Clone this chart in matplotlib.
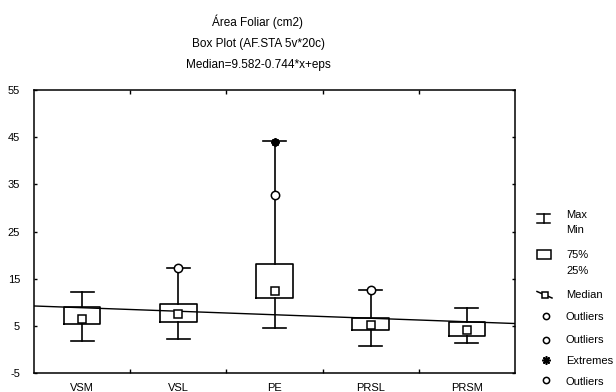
import numpy as np
import matplotlib
matplotlib.use('Agg')
import matplotlib.pyplot as plt
from matplotlib.patches import Rectangle

plt.rcParams['font.family'] = ['Liberation Sans', 'DejaVu Sans']
plt.rcParams['axes.unicode_minus'] = False

# Datos
categorias = ['VSM', 'VSL', 'PE', 'PRSL', 'PRSM']
medianas = [6.4, 7.6, 12.4, 5.2, 4.1]
q1 = [5.3, 5.9, 10.8, 4.1, 2.9]
q3 = [9.0, 9.7, 18.2, 6.6, 5.8]
minimos = [1.8, 2.3, 4.5, 0.8, 1.4]
maximos = [12.2, 17.3, 44.1, 12.5, 8.7]
outliers = [[], [17.3], [32.7], [12.5], []]
extremos = [[], [], [44.0], [], []]

# Recta de regresion: Median = 9.582 - 0.744*x
b0 = 9.582
b1 = -0.744

fig = plt.figure(figsize=(6.16, 3.92), dpi=100)
ax = fig.add_axes([34/616, 19/392, 481/616, 283/392])

stats = []
for i in range(len(categorias)):
    stats.append(dict(med=medianas[i], q1=q1[i], q3=q3[i],
                      whislo=minimos[i], whishi=maximos[i],
                      mean=medianas[i], fliers=outliers[i],
                      label=categorias[i]))

pos = np.arange(1, len(categorias) + 1)
ax.bxp(stats, positions=pos, widths=0.38, capwidths=0.24,
       showmeans=True, showfliers=True,
       boxprops=dict(color='black', linewidth=1.2),
       whiskerprops=dict(color='black', linewidth=1.2),
       capprops=dict(color='black', linewidth=1.2),
       medianprops=dict(linewidth=0),
       meanprops=dict(marker='s', markerfacecolor='white',
                      markeredgecolor='black', markersize=5.5,
                      markeredgewidth=1.1),
       flierprops=dict(marker='o', markerfacecolor='white',
                       markeredgecolor='black', markersize=6,
                       markeredgewidth=1.1),
       zorder=3)

# Extremos
for i, ext in enumerate(extremos):
    for v in ext:
        ax.plot(pos[i], v, marker=(8, 2, 0), color='black',
                markersize=6, markeredgewidth=1.5, zorder=5)

# Recta de la mediana
xr = np.array([0.5, 5.5])
ax.plot(xr, b0 + b1 * xr, color='black', linewidth=1.0, zorder=2)

ax.set_xlim(0.5, 5.5)
ax.set_ylim(-5, 55)
ax.set_yticks(np.arange(-5, 56, 10))
ax.set_xticks(pos)
ax.set_xticklabels(categorias)
ax.set_xticks(pos[:-1] + 0.5, minor=True)
ax.tick_params(axis='x', which='major', length=0, pad=7, labelsize=8)
ax.tick_params(axis='x', which='minor', direction='in', length=3,
               top=True, bottom=True, width=1)
ax.tick_params(axis='y', direction='in', length=2.5, left=True,
               right=True, pad=10, labelsize=8, width=1)
for s in ax.spines.values():
    s.set_linewidth(1.1)

# Titulos
fig.text(258/616, 1 - 22/392, 'Área Foliar (cm2)', ha='center', va='center', fontsize=8.5)
fig.text(258/616, 1 - 44/392, 'Box Plot (AF.STA 5v*20c)', ha='center', va='center', fontsize=8.5)
fig.text(258/616, 1 - 65/392, 'Median=9.582-0.744*x+eps', ha='center', va='center', fontsize=8.5)

# Leyenda dibujada a mano (coordenadas en pixeles)
lg = fig.add_axes([0, 0, 1, 1], facecolor='none')
lg.set_xlim(0, 616)
lg.set_ylim(392, 0)
lg.axis('off')
k = dict(color='black', linewidth=1.1)
lg.plot([537, 550], [214, 214], **k)
lg.plot([537, 550], [222.5, 222.5], **k)
lg.plot([543.5, 543.5], [214, 222.5], **k)
lg.add_patch(Rectangle((537, 250), 14, 9, fill=False, edgecolor='black', linewidth=1.1))
lg.plot([537, 552], [291.5, 298], **k)
lg.plot(544.5, 294.7, marker='s', markerfacecolor='white', markeredgecolor='black',
        markersize=4.5, markeredgewidth=1.1)
for yy in [316, 340, 380]:
    lg.plot(545.5, yy, marker='o', markerfacecolor='white', markeredgecolor='black',
            markersize=4.5, markeredgewidth=1.1)
lg.plot(545.5, 360, marker=(8, 2, 0), color='black', markersize=6, markeredgewidth=1.2)

textos = [('Max', 215), ('Min', 230), ('75%', 255), ('25%', 271),
          ('Median', 295), ('Outliers', 317), ('Outliers', 340),
          ('Extremes', 361), ('Outliers', 382)]
for t, yy in textos:
    lg.text(566, yy, t, fontsize=8, va='center', ha='left')

fig.savefig('out.png', dpi=100)
